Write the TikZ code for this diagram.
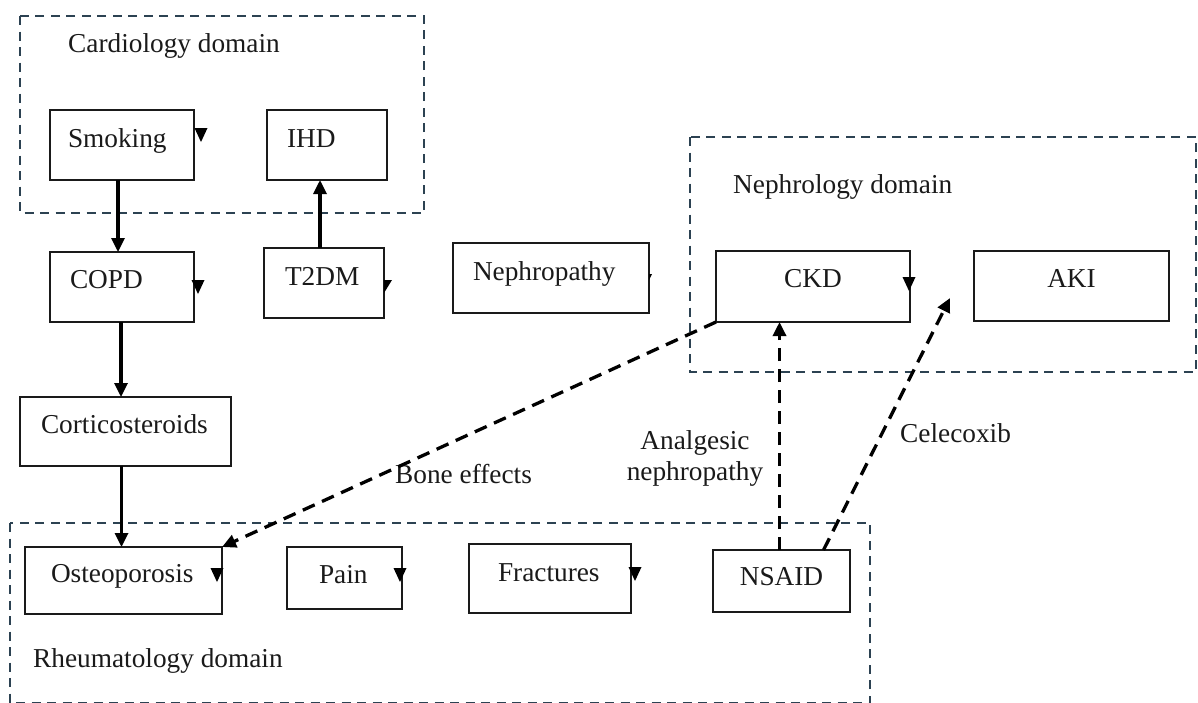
\documentclass[tikz,border=0pt]{standalone}
\usepackage{fontspec}
\setmainfont{Liberation Serif}
\usetikzlibrary{arrows.meta,calc}
\definecolor{dom}{HTML}{2C4252}
\definecolor{ink}{HTML}{1A1A1A}
\tikzset{
  box/.style={draw=ink, line width=2.9pt, rectangle, anchor=north west, inner ysep=0pt, outer sep=0pt, align=left, text=ink},
  cbox/.style={box, align=center, inner xsep=0pt},
  lbl/.style={anchor=base west, inner sep=0pt, text=ink},
  domainbox/.style={draw=dom, line width=2.5pt, dash pattern=on 9pt off 6.5pt},
  arr/.style={draw=black, line width=3.2pt, -{Triangle[length=14pt,width=13pt]}},
  darr/.style={draw=black, line width=3.3pt, dash pattern=on 13pt off 8pt, -{Triangle[length=14pt,width=13pt]}},
  tipmark/.pic={\fill[black] (-6.5,0) -- (6.5,0) -- (0,14) -- cycle;},
  halfmark/.pic={\fill[black] (0,0) -- (8,0) -- (0,13) -- cycle;},
  dotmark/.pic={\fill[black] (0,0) -- (3,0) -- (0,6) -- cycle;},
}
\begin{document}
\begin{tikzpicture}[x=1pt,y=-1pt, font=\fontsize{27.3}{31}\selectfont]
\fill[white] (0,0) rectangle (1198,702);
\useasboundingbox (0,0) rectangle (1198,702);

% domain frames
\draw[domainbox] (20,16) rectangle (424,213);
\draw[domainbox] (690,137) rectangle (1196,372);
\draw[domainbox] (10,523) rectangle (870,703);

% domain labels
\node[lbl] (cardlbl) at (68,52) {Cardiology domain};
\node[lbl] (nephlbl) at (733,193) {Nephrology domain};
\node[lbl] (rheulbl) at (33,667) {Rheumatology domain};

% boxes
\node[box, inner xsep=18pt, text width=108pt, text height=37pt, text depth=33pt] (smoking) at (50,110) {Smoking};
\node[box, inner xsep=20pt, text width=80pt, text height=37pt, text depth=33pt] (ihd) at (267,110) {IHD};
\node[box, inner xsep=20pt, text width=104pt, text height=36pt, text depth=34pt] (copd) at (50,252) {COPD};
\node[box, inner xsep=21pt, text width=78pt, text height=37pt, text depth=33pt] (t2dm) at (264,248) {T2DM};
\node[box, inner xsep=21pt, text width=169pt, text height=36pt, text depth=33pt] (cortico) at (20,397) {Corticosteroids};
\node[box, inner xsep=20pt, text width=156pt, text height=37pt, text depth=33pt] (nephro) at (453,243) {Nephropathy};
\node[cbox, text width=194pt, text height=36pt, text depth=35pt] (ckd) at (716,251) {CKD};
\node[cbox, text width=195pt, text height=36pt, text depth=34pt] (aki) at (974,251) {AKI};
\node[box, inner xsep=26pt, text width=145pt, text height=35pt, text depth=32pt] (osteo) at (25,547) {Osteoporosis};
\node[box, inner xsep=32pt, text width=51pt, text height=36pt, text depth=26pt] (pain) at (287,547) {Pain};
\node[box, inner xsep=29pt, text width=104pt, text height=37pt, text depth=32pt] (fract) at (469,544) {Fractures};
\node[cbox, text width=137pt, text height=35pt, text depth=27pt] (nsaid) at (713,550) {NSAID};

% edge labels
\node[lbl] (bonelbl) at (395,483) {Bone effects};
\node[anchor=base, inner sep=0pt, align=center, text=ink] (anlbl) at (695,480) {Analgesic\\nephropathy};
\node[lbl] (celelbl) at (900,442) {Celecoxib};

% solid connectors
\draw[arr] ([xshift=-4pt]smoking.south) -- ([xshift=-4pt]smoking.south |- copd.north);
\draw[arr] ([xshift=-4pt]t2dm.north) -- ([xshift=-4pt]t2dm.north |- ihd.south);
\draw[arr] ([xshift=-1pt]copd.south) -- ([xshift=-1pt]copd.south |- cortico.north);
\draw[arr] ([xshift=-4pt]cortico.south) -- ([xshift=-4pt]cortico.south |- osteo.north);

% dashed connectors
\coordinate (celend) at ($(aki.west)+(-24,12)$);
\draw[darr] (ckd.south west) -- (osteo.north east);
\draw[darr] ([xshift=-2pt]nsaid.north) -- ([xshift=-2pt]nsaid.north |- ckd.south);
\draw[darr] ([xshift=42pt]nsaid.north) -- (celend);

% stray arrow-tip marks
\pic at ($(smoking.north east)+(7,18)$) {tipmark};
\pic at ($(copd.north east)+(4,28)$) {tipmark};
\pic at ($(t2dm.north east)+(0,32)$) {halfmark};
\pic at ($(nephro.north east)+(0,31)$) {dotmark};
\pic at ($(ckd.north east)+(-1,26)$) {tipmark};
\pic at ($(osteo.north east)+(-5,21)$) {tipmark};
\pic at ($(pain.north east)+(-2,21)$) {tipmark};
\pic at ($(fract.north east)+(4,23)$) {tipmark};
\end{tikzpicture}
\end{document}
